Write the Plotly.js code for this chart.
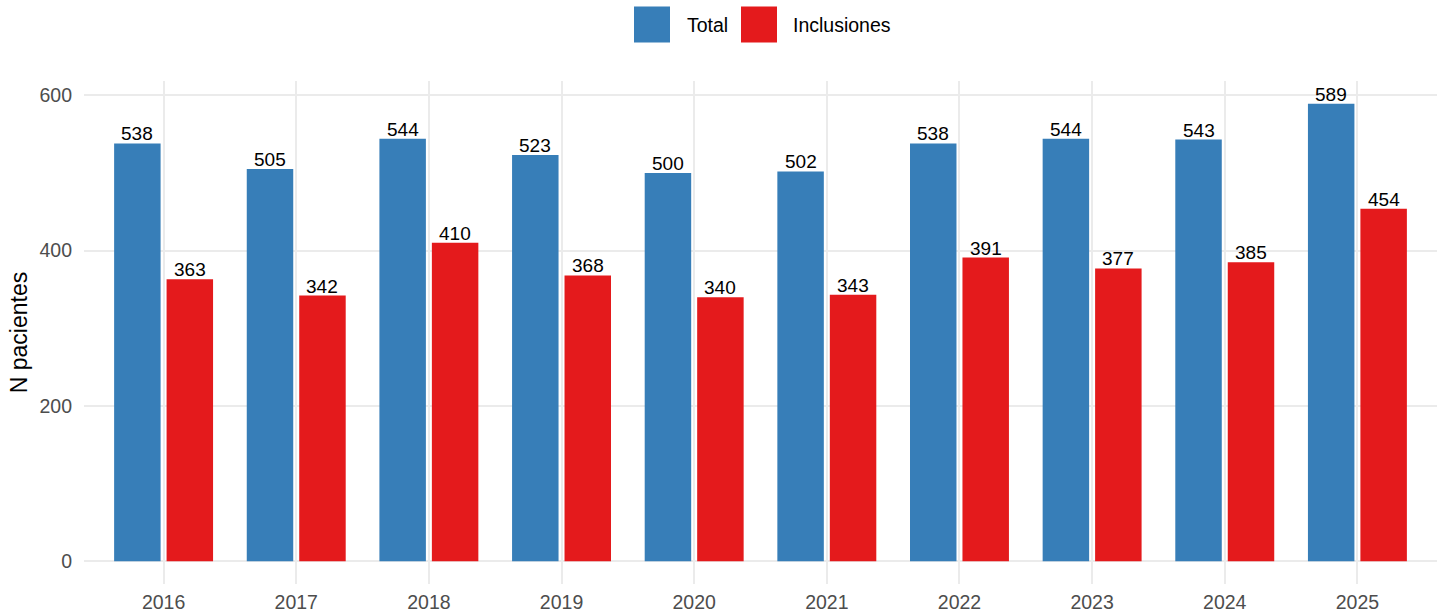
<!DOCTYPE html>
<html>
<head>
<meta charset="utf-8">
<script src="https://cdn.plot.ly/plotly-3.0.1.min.js"></script>
<style>html,body{margin:0;padding:0;background:#fff;}#chart{width:1437px;height:613px;}</style>
</head>
<body>
<div id="chart"></div>
<script>
const years = [2016, 2017, 2018, 2019, 2020, 2021, 2022, 2023, 2024, 2025];
const total = [538, 505, 544, 523, 500, 502, 538, 544, 543, 589];
const inclusiones = [363, 342, 410, 368, 340, 343, 391, 377, 385, 454];
const seriesNames = ['Total', 'Inclusiones'];
const seriesColors = ['#377EB8', '#E41A1C'];
const yTicks = [0, 200, 400, 600];

const FONT = 'Liberation Sans, Arial, sans-serif';
const W = 1437, H = 613;
const M = {l: 84, r: 0, t: 81, b: 29};
const pw = W - M.l - M.r, ph = H - M.t - M.b;
const px = x => (x - M.l) / pw;
const py = y => 1 - (y - M.t) / ph;

function barTrace(name, vals, color) {
  return {
    type: 'bar', name: name, x: years, y: vals,
    marker: {color: color, line: {width: 0}},
    showlegend: false,
    hovertemplate: '%{x}: %{y}<extra>' + name + '</extra>'
  };
}
const data = [
  barTrace(seriesNames[0], total, seriesColors[0]),
  barTrace(seriesNames[1], inclusiones, seriesColors[1])
];

const shapes = [], annotations = [];

// value labels above bars (dodged by half a bar slot)
const dodge = 26.25;
[total, inclusiones].forEach((vals, s) => {
  vals.forEach((v, i) => {
    annotations.push({xref: 'x', yref: 'y', x: years[i], y: v,
      xshift: s === 0 ? -dodge : dodge, yshift: -3,
      xanchor: 'center', yanchor: 'bottom', showarrow: false,
      text: String(v), font: {family: FONT, size: 19, color: '#000'}});
  });
});

// custom legend (ggplot style large keys)
const legendItems = [
  {sq: 652, tx: 685},
  {sq: 759, tx: 791}
];
legendItems.forEach((it, i) => {
  shapes.push({type: 'rect', xref: 'paper', yref: 'paper',
    x0: px(it.sq - 18), x1: px(it.sq + 18), y0: py(42.5), y1: py(6.5),
    fillcolor: seriesColors[i], line: {width: 0}});
  annotations.push({xref: 'paper', yref: 'paper', x: px(it.tx), y: py(25),
    xanchor: 'left', yanchor: 'middle', showarrow: false, text: seriesNames[i],
    font: {family: FONT, size: 19.5, color: '#000'}});
});

const layout = {
  width: W, height: H,
  margin: M,
  paper_bgcolor: '#fff', plot_bgcolor: '#fff',
  font: {family: FONT},
  barmode: 'group', bargap: 0.209, bargroupgap: 0.114,
  showlegend: false,
  xaxis: {
    type: 'linear', range: [years[0] - 0.6, years[years.length - 1] + 0.6],
    tickvals: years, ticktext: years.map(String),
    showgrid: true, gridcolor: '#EBEBEB', gridwidth: 2,
    zeroline: false, showline: false, ticks: '',
    tickfont: {family: FONT, size: 19.5, color: '#4D4D4D'},
    ticklabelstandoff: 4
  },
  yaxis: {
    range: [-29.45, 618.45],
    tickvals: yTicks,
    showgrid: true, gridcolor: '#EBEBEB', gridwidth: 2,
    zeroline: false, showline: false, ticks: '',
    tickfont: {family: FONT, size: 19.5, color: '#4D4D4D'},
    ticklabelstandoff: 11,
    title: {text: 'N pacientes', font: {family: FONT, size: 23, color: '#000'}, standoff: 5}
  },
  shapes: shapes,
  annotations: annotations
};

Plotly.newPlot('chart', data, layout, {displayModeBar: false, staticPlot: true});
</script>
</body>
</html>
